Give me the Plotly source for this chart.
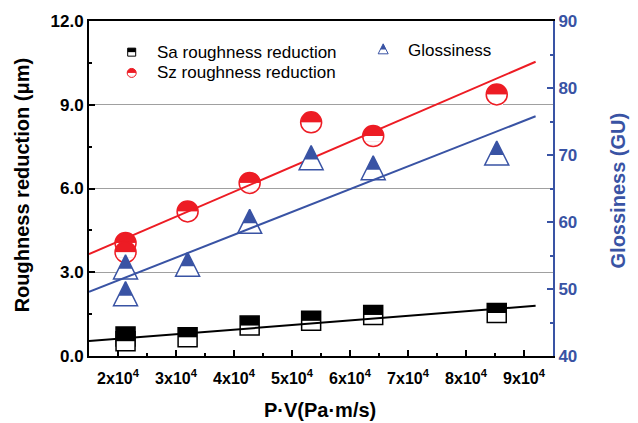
import numpy as np
import plotly.graph_objects as go

# ---- data -------------------------------------------------------------
# P·V load levels (Pa·m/s); the lowest level was measured twice
pv = [2.13e4, 2.13e4, 3.2e4, 4.27e4, 5.33e4, 6.4e4, 8.53e4]
sa_reduction = [0.70, 0.53, 0.67, 1.09, 1.26, 1.47, 1.54]      # µm
sz_reduction = [4.05, 3.72, 5.18, 6.20, 8.37, 7.88, 9.37]      # µm
glossiness = [52.7, 48.7, 53.1, 59.5, 69.0, 67.5, 69.7]        # GU

x_tick_vals = [2e4, 3e4, 4e4, 5e4, 6e4, 7e4, 8e4, 9e4]
x_tick_text = ["2x10<sup>4</sup>", "3x10<sup>4</sup>", "4x10<sup>4</sup>",
               "5x10<sup>4</sup>", "6x10<sup>4</sup>", "7x10<sup>4</sup>",
               "8x10<sup>4</sup>", "9x10<sup>4</sup>"]
y_tick_vals = [0, 3, 6, 9, 12]
y_tick_text = ["0.0", "3.0", "6.0", "9.0", "12.0"]
y2_tick_vals = [40, 50, 60, 70, 80, 90]
fit_span = [1.5e4, 9.2e4]   # x extent of the linear fits

series_names = ["Sa roughness reduction", "Sz roughness reduction", "Glossiness"]

# ---- style ------------------------------------------------------------
RED = "#ED1C24"
BLUE = "#3953A4"
BLACK = "#000000"
FONT = "Liberation Sans, Arial, sans-serif"

fig = go.Figure()


def layer(x, y, symbol, size, color, xaxis="x", yaxis="y",
          line_color=None, line_width=0, angle=0, standoff=0):
    fig.add_trace(go.Scatter(
        x=x, y=y, xaxis=xaxis, yaxis=yaxis, mode="markers",
        showlegend=False, hoverinfo="skip", cliponaxis=False,
        marker=dict(symbol=symbol, size=size, color=color, angle=angle,
                    standoff=standoff,
                    line=dict(color=line_color or color, width=line_width))))


def half_square(x, y, s, color, lw=1.5, **ax):
    # white body, upper half filled, outline on top
    layer(x, y, "square", s, "white", **ax)
    layer(x, y, "line-ew", s / 1.4, color, line_width=s / 2,
          angle=180, standoff=s / 4, **ax)
    layer(x, y, "square-open", s, color, line_width=lw, **ax)


def half_circle(x, y, d, color, lw=1.5, **ax):
    # filled disc, lower half masked white with stacked strips, outline on top
    r = d / 2
    layer(x, y, "circle", d, color, **ax)
    for a, b in [(0.0, 0.5), (0.5, 0.8), (0.8, 1.02)]:
        half_w = r * np.sqrt(max(1 - a * a, 0))
        layer(x, y, "line-ew", 2 * half_w / 1.4, "white",
              line_width=(b - a) * r + 0.4, standoff=(a + b) / 2 * r + 0.2, **ax)
    layer(x, y, "circle-open", d, color, line_width=lw, **ax)


def half_triangle(x, y, s, color, lw=1.5, fill_frac=0.58, **ax):
    # upward triangle centred on its centroid, top part filled
    r = s / 2
    so = 4 * r / 3
    layer(x, y, "arrow-down", s, "white", angle=180, standoff=so, **ax)
    layer(x, y, "arrow-down", s * fill_frac, color, angle=180, standoff=so, **ax)
    layer(x, y, "arrow-down-open", s, color, line_width=lw,
          angle=180, standoff=so, **ax)


# ---- markers (drawn point by point so repeated measurements stack) ---------
for xv, yv in zip(pv, sa_reduction):
    half_square([xv], [yv], 19, BLACK)
for xv, yv in zip(pv, sz_reduction):
    half_circle([xv], [yv], 21, RED)
for xv, yv in zip(pv, glossiness):
    half_triangle([xv], [yv], 24, BLUE, yaxis="y2")

# ---- linear fits ------------------------------------------------------
for vals, color, yaxis in [(sa_reduction, BLACK, "y"),
                           (sz_reduction, RED, "y"),
                           (glossiness, BLUE, "y2")]:
    slope, icpt = np.polyfit(pv, vals, 1)
    fx = np.array(fit_span)
    fig.add_trace(go.Scatter(x=fx, y=slope * fx + icpt, yaxis=yaxis,
                             mode="lines", showlegend=False, hoverinfo="skip",
                             line=dict(color=color, width=2)))

# ---- legend keys on a hidden unit-square overlay ---------------------------
leg = dict(xaxis="x3", yaxis="y3")
key_x = [0.092, 0.092, 0.634]
key_y = [0.907, 0.845, 0.912]
half_square([key_x[0]], [key_y[0]], 8, BLACK, lw=1, **leg)
half_circle([key_x[1]], [key_y[1]], 9, RED, lw=1, **leg)
half_triangle([key_x[2]], [key_y[2]], 10, BLUE, lw=1, **leg)

text_x = [0.142, 0.142, 0.683]
annotations = []
for name, tx, ty in zip(series_names, text_x, key_y):
    annotations.append(dict(xref="paper", yref="paper", x=tx, y=ty, text=name,
                            showarrow=False, xanchor="left", yanchor="middle",
                            font=dict(family=FONT, size=17, color=BLACK)))

# axis titles
annotations += [
    dict(xref="paper", yref="paper", x=-0.144, y=0.51, textangle=-90,
         xanchor="center", yanchor="middle",
         text="<b>Roughness reduction (μm)</b>", showarrow=False,
         font=dict(family=FONT, size=20, color=BLACK)),
    dict(xref="paper", yref="paper", x=1.14, y=0.494, textangle=-90,
         xanchor="center", yanchor="middle",
         text="<b>Glossiness (GU)</b>", showarrow=False,
         font=dict(family=FONT, size=20, color=BLUE)),
    dict(xref="paper", yref="paper", x=0.498, y=-0.161,
         xanchor="center", yanchor="middle",
         text="<b>P·V(Pa·m/s)</b>", showarrow=False,
         font=dict(family=FONT, size=20, color=BLACK)),
]

tick_font = dict(family=FONT, size=16, weight="bold")

fig.update_layout(
    width=638, height=423,
    margin=dict(l=89, r=85, t=15, b=67),
    paper_bgcolor="white", plot_bgcolor="white",
    showlegend=False,
    annotations=annotations,
    xaxis=dict(range=[1.5e4, 9.5e4], tickmode="array", tickvals=x_tick_vals,
               ticktext=x_tick_text, ticks="inside", ticklen=6, tickwidth=1.5,
               tickcolor=BLACK, showline=True, linecolor=BLACK, linewidth=2,
               mirror=True, showgrid=False, zeroline=False,
               ticklabelstandoff=7,
               tickfont=dict(tick_font, color=BLACK),
               minor=dict(tickmode="linear", tick0=0, dtick=5e3, ticks="inside",
                          ticklen=3, tickwidth=1.5, tickcolor=BLACK,
                          showgrid=False)),
    yaxis=dict(range=[0, 12], tickmode="array", tickvals=y_tick_vals,
               ticktext=y_tick_text, ticks="inside", ticklen=6, tickwidth=1.5,
               tickcolor=BLACK, showline=True, linecolor=BLACK, linewidth=2,
               showgrid=True, gridcolor="#a0a0a0", gridwidth=1, zeroline=False,
               tickfont=dict(tick_font, size=17, color=BLACK),
               minor=dict(tickmode="linear", tick0=0, dtick=1.5, ticks="inside",
                          ticklen=3, tickwidth=1.5, tickcolor=BLACK,
                          showgrid=False)),
    yaxis2=dict(range=[40, 90], overlaying="y", side="right", anchor="x",
                tickmode="array", tickvals=y2_tick_vals,
                ticks="inside", ticklen=6, tickwidth=1.5, tickcolor=BLUE,
                showline=True, linecolor=BLUE, linewidth=2, showgrid=False,
                zeroline=False, tickfont=dict(tick_font, size=17, color=BLUE),
                minor=dict(tickmode="linear", tick0=0, dtick=5, ticks="inside",
                           ticklen=3, tickwidth=1.5, tickcolor=BLUE,
                           showgrid=False)),
    xaxis3=dict(range=[0, 1], overlaying="x", anchor="y3", visible=False),
    yaxis3=dict(range=[0, 1], overlaying="y", anchor="x3", visible=False),
)

fig.write_html("out.html")
